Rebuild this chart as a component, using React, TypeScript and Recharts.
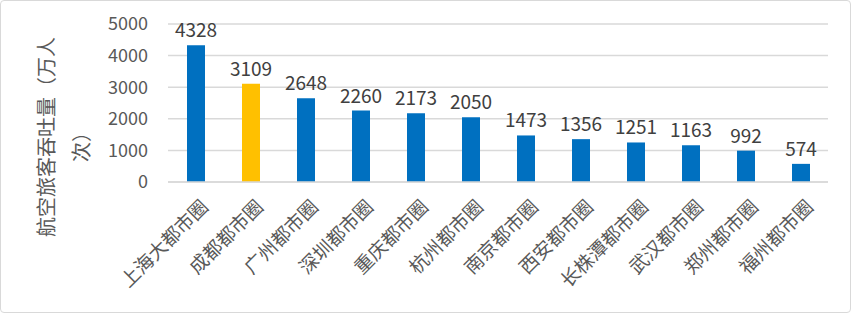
import React from 'react'
import { BarChart, Bar, XAxis, YAxis, CartesianGrid, Cell, LabelList } from 'recharts'

const categories = [
  '上海大都市圈',
  '成都都市圈',
  '广州都市圈',
  '深圳都市圈',
  '重庆都市圈',
  '杭州都市圈',
  '南京都市圈',
  '西安都市圈',
  '长株潭都市圈',
  '武汉都市圈',
  '郑州都市圈',
  '福州都市圈',
]
const passengers = [4328, 3109, 2648, 2260, 2173, 2050, 1473, 1356, 1251, 1163, 992, 574]
const highlight = '成都都市圈'
const yTicks = [0, 1000, 2000, 3000, 4000, 5000]

const data = categories.map((name, i) => ({ name, value: passengers[i] }))

const FONT = '"Noto Sans CJK SC", "Noto Sans", sans-serif'

const XTick = (props: any) => {
  const { x, y, payload } = props
  return (
    <g transform={`translate(${x + 9},${y + 13})`}>
      <text
        x={0}
        y={0}
        dy={7}
        textAnchor="end"
        transform="rotate(-45)"
        fill="#595959"
        fontSize={19}
        fontFamily={FONT}
      >
        {payload.value}
      </text>
    </g>
  )
}

export default function App() {
  return (
    <div
      style={{
        position: 'absolute',
        left: 0,
        top: 0,
        width: 851,
        height: 313,
        boxSizing: 'border-box',
        border: '1px solid #d9d9d9',
        borderRadius: 4,
        background: '#fff',
        fontFamily: FONT,
      }}
    >
      <svg width={120} height={313} style={{ position: 'absolute', left: 0, top: 0 }}>
        <text
          transform="translate(53,136) rotate(-90)"
          textAnchor="middle"
          fill="#595959"
          fontSize={20}
          fontFamily={FONT}
        >
          航空旅客吞吐量（万人
        </text>
        <text
          transform="translate(88,141) rotate(-90)"
          textAnchor="middle"
          fill="#595959"
          fontSize={20}
          fontFamily={FONT}
        >
          次）
        </text>
      </svg>
      <div style={{ position: 'absolute', left: -1, top: -1 }}>
        <BarChart
          width={851}
          height={313}
          data={data}
          margin={{ top: 24, right: 23, left: 0, bottom: 0 }}
          barCategoryGap={0}
        >
          <CartesianGrid vertical={false} stroke="#d9d9d9" strokeWidth={1.5} />
          <XAxis
            dataKey="name"
            interval={0}
            height={131}
            tick={<XTick />}
            tickLine={false}
            axisLine={{ stroke: '#d9d9d9', strokeWidth: 1.5 }}
          />
          <YAxis
            width={168}
            domain={[0, 5000]}
            ticks={yTicks}
            axisLine={false}
            tickLine={false}
            tickSize={0}
            tickMargin={20}
            tick={{ fill: '#595959', fontSize: 18, fontFamily: FONT }}
          />
          <Bar dataKey="value" barSize={18} isAnimationActive={false}>
            {data.map((d) => (
              <Cell key={d.name} fill={d.name === highlight ? '#FFC000' : '#0070C0'} />
            ))}
            <LabelList
              dataKey="value"
              position="top"
              offset={8}
              fill="#404040"
              fontSize={19}
              fontFamily={FONT}
            />
          </Bar>
        </BarChart>
      </div>
    </div>
  )
}
